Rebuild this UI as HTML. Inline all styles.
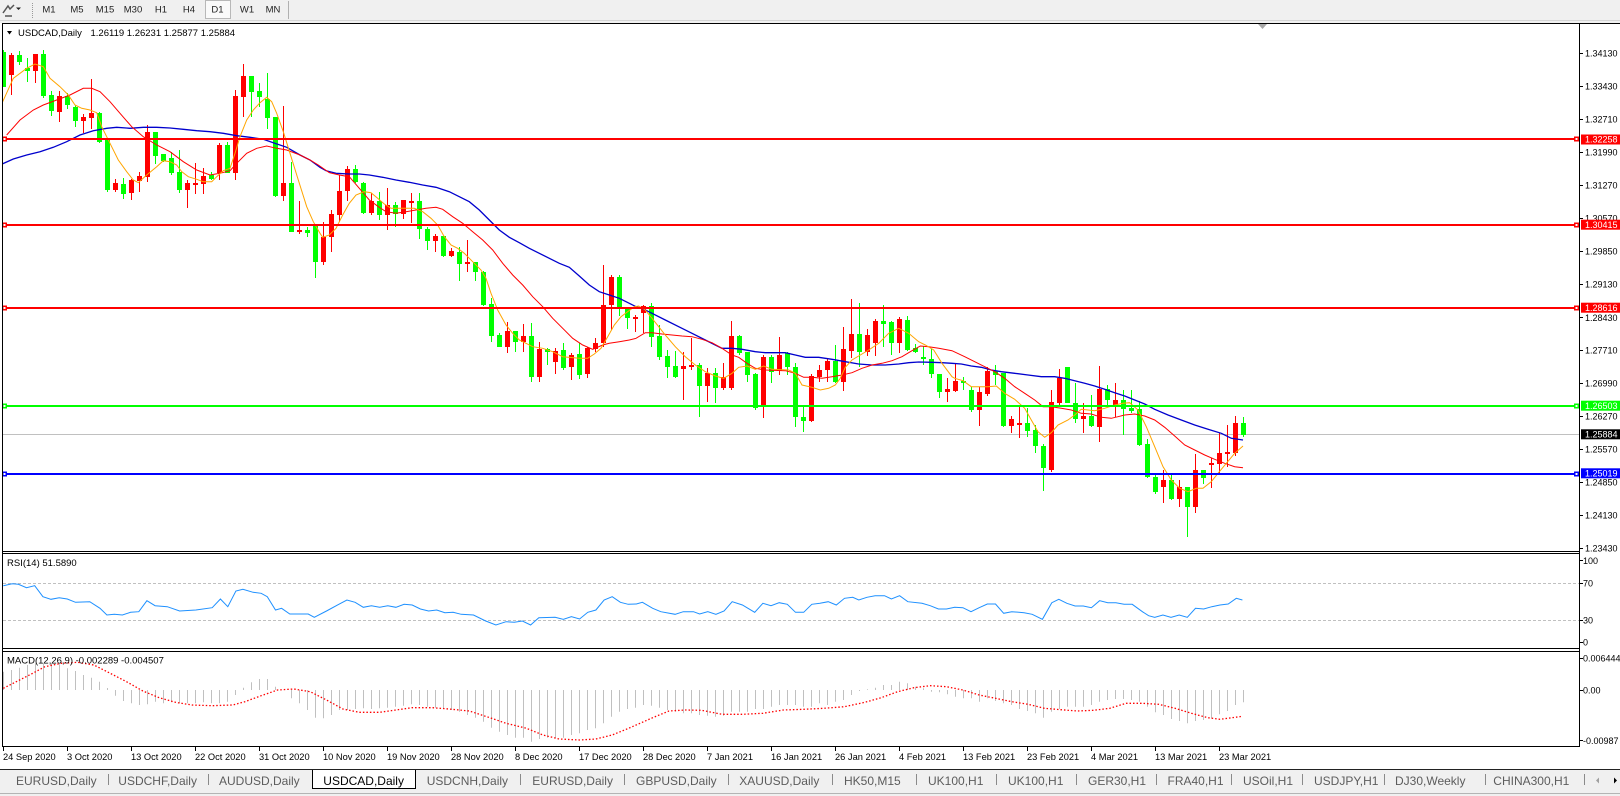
<!DOCTYPE html>
<html><head><meta charset="utf-8"><style>
html,body{margin:0;padding:0;background:#fff;width:1620px;height:796px;overflow:hidden}
svg{display:block;font-family:"Liberation Sans",Arial,sans-serif}
</style></head><body>
<svg width="1620" height="796" viewBox="0 0 1620 796" xmlns="http://www.w3.org/2000/svg">
<defs><clipPath id="mc"><rect x="3" y="24" width="1576" height="527"/></clipPath>
<clipPath id="rc"><rect x="3" y="554" width="1576" height="94"/></clipPath>
<clipPath id="dc"><rect x="3" y="652" width="1576" height="94"/></clipPath></defs>
<!-- toolbar -->
<rect x="0" y="0" width="1620" height="23" fill="#f0f0f0"/>
<line x1="0" y1="20.5" x2="1620" y2="20.5" stroke="#d4d4d4"/>
<path d="M3 13 L8 6 L10 9 L14 5 M5 16 L12 16" stroke="#555" stroke-width="1.5" fill="none"/>
<polygon points="16,7.5 21,7.5 18.5,10" fill="#222"/>
<line x1="32.5" y1="3" x2="32.5" y2="18" stroke="#999" stroke-dasharray="1 1"/>
<rect x="205.5" y="0.5" width="25" height="18" fill="#fafafa" stroke="#b8b8b8"/>
<line x1="288.5" y1="1" x2="288.5" y2="19" stroke="#b0b0b0"/>
<g font-size="9.5" fill="#222" text-anchor="middle">
<text x="49" y="12.3">M1</text><text x="77" y="12.3">M5</text><text x="105" y="12.3">M15</text><text x="133" y="12.3">M30</text><text x="161" y="12.3">H1</text><text x="189" y="12.3">H4</text><text x="217.5" y="12.3">D1</text><text x="247" y="12.3">W1</text><text x="273" y="12.3">MN</text>
</g>
<!-- frame -->
<line x1="2" y1="23.5" x2="1620" y2="23.5" stroke="#000"/>
<line x1="2.5" y1="23.5" x2="2.5" y2="747" stroke="#000"/>
<line x1="1579.5" y1="23.5" x2="1579.5" y2="747" stroke="#000"/>
<line x1="2" y1="551.5" x2="1580" y2="551.5" stroke="#000"/>
<line x1="2" y1="553.5" x2="1580" y2="553.5" stroke="#000"/>
<line x1="2" y1="648.5" x2="1580" y2="648.5" stroke="#000"/>
<line x1="2" y1="651.5" x2="1580" y2="651.5" stroke="#000"/>
<line x1="2" y1="746.5" x2="1580" y2="746.5" stroke="#000"/>
<polygon points="1258,24 1267,24 1262.5,29" fill="#a8a8a8"/>
<!-- title -->
<polygon points="7,31 12,31 9.5,34.5" fill="#000"/>
<text x="18" y="36" font-size="9.5" fill="#000">USDCAD,Daily  <tspan x="90.5">1.26119 1.26231 1.25877 1.25884</tspan></text>
<!-- main chart -->
<g clip-path="url(#mc)">
<rect x="3" y="434" width="1576" height="1" fill="#c0c0c0"/>
<g fill="#ff0000">
<rect x="11" y="53" width="1" height="42"/><rect x="9" y="55" width="5" height="20"/>
<rect x="35" y="54" width="1" height="29"/><rect x="33" y="54" width="5" height="17"/>
<rect x="59" y="91" width="1" height="31"/><rect x="57" y="96" width="5" height="16"/>
<rect x="83" y="114" width="1" height="19"/><rect x="81" y="117" width="5" height="4"/>
<rect x="91" y="79" width="1" height="50"/><rect x="89" y="113" width="5" height="5"/>
<rect x="115" y="179" width="1" height="13"/><rect x="113" y="183" width="5" height="7"/>
<rect x="131" y="179" width="1" height="21"/><rect x="129" y="180" width="5" height="13"/>
<rect x="139" y="172" width="1" height="20"/><rect x="137" y="176" width="5" height="5"/>
<rect x="147" y="125" width="1" height="57"/><rect x="145" y="132" width="5" height="45"/>
<rect x="187" y="180" width="1" height="28"/><rect x="185" y="183" width="5" height="7"/>
<rect x="195" y="163" width="1" height="31"/><rect x="193" y="183" width="5" height="2"/>
<rect x="203" y="168" width="1" height="26"/><rect x="201" y="176" width="5" height="8"/>
<rect x="219" y="143" width="1" height="37"/><rect x="217" y="145" width="5" height="28"/>
<rect x="235" y="90" width="1" height="90"/><rect x="233" y="96" width="5" height="77"/>
<rect x="243" y="64" width="1" height="53"/><rect x="241" y="76" width="5" height="21"/>
<rect x="283" y="106" width="1" height="95"/><rect x="281" y="183" width="5" height="13"/>
<rect x="299" y="201" width="1" height="33"/><rect x="297" y="230" width="5" height="2"/>
<rect x="323" y="222" width="1" height="43"/><rect x="321" y="237" width="5" height="25"/>
<rect x="331" y="210" width="1" height="42"/><rect x="329" y="214" width="5" height="23"/>
<rect x="339" y="175" width="1" height="47"/><rect x="337" y="191" width="5" height="24"/>
<rect x="347" y="166" width="1" height="35"/><rect x="345" y="169" width="5" height="22"/>
<rect x="371" y="193" width="1" height="22"/><rect x="369" y="201" width="5" height="12"/>
<rect x="387" y="188" width="1" height="42"/><rect x="385" y="205" width="5" height="10"/>
<rect x="403" y="200" width="1" height="19"/><rect x="401" y="200" width="5" height="14"/>
<rect x="411" y="193" width="1" height="30"/><rect x="409" y="201" width="5" height="2"/>
<rect x="435" y="234" width="1" height="18"/><rect x="433" y="236" width="5" height="5"/>
<rect x="451" y="248" width="1" height="9"/><rect x="449" y="251" width="5" height="5"/>
<rect x="467" y="240" width="1" height="32"/><rect x="465" y="262" width="5" height="2"/>
<rect x="507" y="322" width="1" height="31"/><rect x="505" y="331" width="5" height="16"/>
<rect x="523" y="324" width="1" height="28"/><rect x="521" y="336" width="5" height="6"/>
<rect x="539" y="342" width="1" height="40"/><rect x="537" y="349" width="5" height="28"/>
<rect x="555" y="348" width="1" height="26"/><rect x="553" y="351" width="5" height="11"/>
<rect x="571" y="353" width="1" height="27"/><rect x="569" y="355" width="5" height="12"/>
<rect x="587" y="347" width="1" height="31"/><rect x="585" y="348" width="5" height="26"/>
<rect x="595" y="338" width="1" height="14"/><rect x="593" y="343" width="5" height="6"/>
<rect x="603" y="265" width="1" height="82"/><rect x="601" y="305" width="5" height="38"/>
<rect x="611" y="275" width="1" height="55"/><rect x="609" y="277" width="5" height="28"/>
<rect x="635" y="315" width="1" height="17"/><rect x="633" y="317" width="5" height="2"/>
<rect x="643" y="305" width="1" height="28"/><rect x="641" y="306" width="5" height="7"/>
<rect x="683" y="352" width="1" height="48"/><rect x="681" y="366" width="5" height="3"/>
<rect x="691" y="338" width="1" height="32"/><rect x="689" y="365" width="5" height="2"/>
<rect x="707" y="368" width="1" height="34"/><rect x="705" y="373" width="5" height="13"/>
<rect x="723" y="363" width="1" height="27"/><rect x="721" y="377" width="5" height="11"/>
<rect x="731" y="321" width="1" height="69"/><rect x="729" y="336" width="5" height="52"/>
<rect x="763" y="355" width="1" height="63"/><rect x="761" y="357" width="5" height="49"/>
<rect x="779" y="337" width="1" height="38"/><rect x="777" y="355" width="5" height="16"/>
<rect x="811" y="374" width="1" height="48"/><rect x="809" y="376" width="5" height="45"/>
<rect x="819" y="365" width="1" height="17"/><rect x="817" y="370" width="5" height="7"/>
<rect x="827" y="359" width="1" height="23"/><rect x="825" y="361" width="5" height="9"/>
<rect x="843" y="327" width="1" height="64"/><rect x="841" y="349" width="5" height="33"/>
<rect x="851" y="299" width="1" height="59"/><rect x="849" y="334" width="5" height="17"/>
<rect x="867" y="329" width="1" height="27"/><rect x="865" y="335" width="5" height="17"/>
<rect x="875" y="319" width="1" height="37"/><rect x="873" y="321" width="5" height="22"/>
<rect x="899" y="317" width="1" height="36"/><rect x="897" y="319" width="5" height="24"/>
<rect x="947" y="378" width="1" height="24"/><rect x="945" y="389" width="5" height="3"/>
<rect x="955" y="363" width="1" height="29"/><rect x="953" y="381" width="5" height="10"/>
<rect x="979" y="387" width="1" height="39"/><rect x="977" y="392" width="5" height="18"/>
<rect x="987" y="367" width="1" height="29"/><rect x="985" y="371" width="5" height="23"/>
<rect x="1011" y="416" width="1" height="17"/><rect x="1009" y="419" width="5" height="7"/>
<rect x="1019" y="407" width="1" height="31"/><rect x="1017" y="423" width="5" height="2"/>
<rect x="1051" y="390" width="1" height="82"/><rect x="1049" y="402" width="5" height="68"/>
<rect x="1059" y="369" width="1" height="36"/><rect x="1057" y="378" width="5" height="25"/>
<rect x="1083" y="403" width="1" height="30"/><rect x="1081" y="416" width="5" height="3"/>
<rect x="1099" y="366" width="1" height="76"/><rect x="1097" y="389" width="5" height="38"/>
<rect x="1115" y="383" width="1" height="34"/><rect x="1113" y="400" width="5" height="5"/>
<rect x="1163" y="470" width="1" height="33"/><rect x="1161" y="480" width="5" height="7"/>
<rect x="1179" y="480" width="1" height="27"/><rect x="1177" y="487" width="5" height="12"/>
<rect x="1195" y="454" width="1" height="59"/><rect x="1193" y="470" width="5" height="37"/>
<rect x="1211" y="458" width="1" height="30"/><rect x="1209" y="463" width="5" height="2"/>
<rect x="1219" y="433" width="1" height="40"/><rect x="1217" y="453" width="5" height="11"/>
<rect x="1227" y="425" width="1" height="42"/><rect x="1225" y="452" width="5" height="2"/>
<rect x="1235" y="416" width="1" height="40"/><rect x="1233" y="423" width="5" height="30"/>
</g>
<g fill="#00ff00">
<rect x="3" y="50" width="1" height="37"/><rect x="1" y="52" width="5" height="35"/>
<rect x="19" y="51" width="1" height="14"/><rect x="17" y="55" width="5" height="7"/>
<rect x="27" y="58" width="1" height="24"/><rect x="25" y="68" width="5" height="3"/>
<rect x="43" y="50" width="1" height="48"/><rect x="41" y="54" width="5" height="42"/>
<rect x="51" y="91" width="1" height="25"/><rect x="49" y="95" width="5" height="16"/>
<rect x="67" y="93" width="1" height="16"/><rect x="65" y="96" width="5" height="9"/>
<rect x="75" y="105" width="1" height="22"/><rect x="73" y="107" width="5" height="14"/>
<rect x="99" y="112" width="1" height="31"/><rect x="97" y="113" width="5" height="29"/>
<rect x="107" y="140" width="1" height="52"/><rect x="105" y="140" width="5" height="50"/>
<rect x="123" y="178" width="1" height="21"/><rect x="121" y="184" width="5" height="10"/>
<rect x="155" y="132" width="1" height="32"/><rect x="153" y="132" width="5" height="24"/>
<rect x="163" y="154" width="1" height="8"/><rect x="161" y="154" width="5" height="7"/>
<rect x="171" y="152" width="1" height="23"/><rect x="169" y="158" width="5" height="15"/>
<rect x="179" y="150" width="1" height="43"/><rect x="177" y="172" width="5" height="18"/>
<rect x="211" y="172" width="1" height="8"/><rect x="209" y="175" width="5" height="4"/>
<rect x="227" y="142" width="1" height="31"/><rect x="225" y="145" width="5" height="28"/>
<rect x="251" y="76" width="1" height="41"/><rect x="249" y="76" width="5" height="16"/>
<rect x="259" y="83" width="1" height="24"/><rect x="257" y="91" width="5" height="6"/>
<rect x="267" y="73" width="1" height="56"/><rect x="265" y="99" width="5" height="19"/>
<rect x="275" y="117" width="1" height="80"/><rect x="273" y="117" width="5" height="79"/>
<rect x="291" y="162" width="1" height="70"/><rect x="289" y="183" width="5" height="49"/>
<rect x="307" y="227" width="1" height="10"/><rect x="305" y="230" width="5" height="3"/>
<rect x="315" y="226" width="1" height="52"/><rect x="313" y="226" width="5" height="36"/>
<rect x="355" y="165" width="1" height="18"/><rect x="353" y="169" width="5" height="13"/>
<rect x="363" y="182" width="1" height="32"/><rect x="361" y="183" width="5" height="30"/>
<rect x="379" y="192" width="1" height="28"/><rect x="377" y="201" width="5" height="14"/>
<rect x="395" y="202" width="1" height="25"/><rect x="393" y="205" width="5" height="9"/>
<rect x="419" y="193" width="1" height="46"/><rect x="417" y="201" width="5" height="28"/>
<rect x="427" y="227" width="1" height="23"/><rect x="425" y="229" width="5" height="12"/>
<rect x="443" y="236" width="1" height="21"/><rect x="441" y="236" width="5" height="20"/>
<rect x="459" y="247" width="1" height="34"/><rect x="457" y="252" width="5" height="12"/>
<rect x="475" y="262" width="1" height="19"/><rect x="473" y="262" width="5" height="10"/>
<rect x="483" y="271" width="1" height="35"/><rect x="481" y="272" width="5" height="33"/>
<rect x="491" y="298" width="1" height="44"/><rect x="489" y="304" width="5" height="32"/>
<rect x="499" y="333" width="1" height="14"/><rect x="497" y="335" width="5" height="12"/>
<rect x="515" y="331" width="1" height="21"/><rect x="513" y="331" width="5" height="11"/>
<rect x="531" y="323" width="1" height="59"/><rect x="529" y="336" width="5" height="41"/>
<rect x="547" y="348" width="1" height="17"/><rect x="545" y="349" width="5" height="3"/>
<rect x="563" y="343" width="1" height="27"/><rect x="561" y="350" width="5" height="18"/>
<rect x="579" y="343" width="1" height="36"/><rect x="577" y="354" width="5" height="21"/>
<rect x="619" y="275" width="1" height="41"/><rect x="617" y="277" width="5" height="32"/>
<rect x="627" y="307" width="1" height="22"/><rect x="625" y="308" width="5" height="10"/>
<rect x="651" y="303" width="1" height="44"/><rect x="649" y="306" width="5" height="31"/>
<rect x="659" y="325" width="1" height="35"/><rect x="657" y="336" width="5" height="21"/>
<rect x="667" y="350" width="1" height="28"/><rect x="665" y="356" width="5" height="11"/>
<rect x="675" y="351" width="1" height="27"/><rect x="673" y="366" width="5" height="11"/>
<rect x="699" y="363" width="1" height="54"/><rect x="697" y="365" width="5" height="21"/>
<rect x="715" y="368" width="1" height="35"/><rect x="713" y="373" width="5" height="15"/>
<rect x="739" y="335" width="1" height="20"/><rect x="737" y="336" width="5" height="17"/>
<rect x="747" y="352" width="1" height="30"/><rect x="745" y="352" width="5" height="23"/>
<rect x="755" y="373" width="1" height="37"/><rect x="753" y="374" width="5" height="34"/>
<rect x="771" y="355" width="1" height="28"/><rect x="769" y="357" width="5" height="15"/>
<rect x="787" y="352" width="1" height="23"/><rect x="785" y="353" width="5" height="14"/>
<rect x="795" y="363" width="1" height="64"/><rect x="793" y="367" width="5" height="50"/>
<rect x="803" y="407" width="1" height="25"/><rect x="801" y="417" width="5" height="4"/>
<rect x="835" y="345" width="1" height="38"/><rect x="833" y="361" width="5" height="21"/>
<rect x="859" y="303" width="1" height="64"/><rect x="857" y="334" width="5" height="18"/>
<rect x="883" y="305" width="1" height="42"/><rect x="881" y="321" width="5" height="3"/>
<rect x="891" y="321" width="1" height="34"/><rect x="889" y="322" width="5" height="21"/>
<rect x="907" y="316" width="1" height="35"/><rect x="905" y="320" width="5" height="30"/>
<rect x="915" y="344" width="1" height="9"/><rect x="913" y="348" width="5" height="4"/>
<rect x="923" y="346" width="1" height="19"/><rect x="921" y="357" width="5" height="2"/>
<rect x="931" y="349" width="1" height="29"/><rect x="929" y="359" width="5" height="15"/>
<rect x="939" y="374" width="1" height="24"/><rect x="937" y="374" width="5" height="18"/>
<rect x="963" y="377" width="1" height="13"/><rect x="961" y="381" width="5" height="2"/>
<rect x="971" y="387" width="1" height="25"/><rect x="969" y="390" width="5" height="20"/>
<rect x="995" y="365" width="1" height="20"/><rect x="993" y="371" width="5" height="4"/>
<rect x="1003" y="373" width="1" height="54"/><rect x="1001" y="373" width="5" height="53"/>
<rect x="1027" y="408" width="1" height="29"/><rect x="1025" y="423" width="5" height="8"/>
<rect x="1035" y="425" width="1" height="28"/><rect x="1033" y="430" width="5" height="16"/>
<rect x="1043" y="444" width="1" height="47"/><rect x="1041" y="446" width="5" height="22"/>
<rect x="1067" y="367" width="1" height="36"/><rect x="1065" y="367" width="5" height="36"/>
<rect x="1075" y="383" width="1" height="40"/><rect x="1073" y="403" width="5" height="16"/>
<rect x="1091" y="395" width="1" height="32"/><rect x="1089" y="416" width="5" height="10"/>
<rect x="1107" y="385" width="1" height="20"/><rect x="1105" y="389" width="5" height="11"/>
<rect x="1123" y="390" width="1" height="45"/><rect x="1121" y="400" width="5" height="9"/>
<rect x="1131" y="390" width="1" height="23"/><rect x="1129" y="408" width="5" height="3"/>
<rect x="1139" y="401" width="1" height="45"/><rect x="1137" y="409" width="5" height="36"/>
<rect x="1147" y="439" width="1" height="39"/><rect x="1145" y="444" width="5" height="33"/>
<rect x="1155" y="474" width="1" height="20"/><rect x="1153" y="477" width="5" height="15"/>
<rect x="1171" y="474" width="1" height="26"/><rect x="1169" y="480" width="5" height="19"/>
<rect x="1187" y="487" width="1" height="50"/><rect x="1185" y="487" width="5" height="20"/>
<rect x="1203" y="470" width="1" height="14"/><rect x="1201" y="470" width="5" height="8"/>
<rect x="1243" y="417" width="1" height="20"/><rect x="1241" y="423" width="5" height="12"/>
</g>
<polyline fill="none" stroke="#0000cd" stroke-width="1.3" points="0,165 13.3,159 26.7,155 40,151.7 53.3,147.3 66.7,141.7 80,135 93.3,130.7 106.7,128.3 116.7,127.3 130,128.3 143.3,127.3 156.7,127.3 170,128 183.3,129.3 196.7,130.7 210,131.7 223.3,133.3 236.7,135.7 250,137.3 263.3,139.3 273.3,142.7 286.7,147.3 300,155 310,160 320,167.3 326,170.7 336,173.3 349.3,174 359.3,174 369.3,175 382.7,177.3 396,180 409.3,182.3 422.7,185 436,187.3 449.3,191.7 459.3,196.7 469.3,201.7 479.3,210 489.3,220 499.3,230 509.3,237.3 519.3,242.7 529.3,248.3 539.3,253.3 549.3,258.3 559.3,263.3 569.3,267.3 579.3,276 589.3,285 599.3,291.7 609.3,295 619.3,298.3 629.3,303.3 636,306.7 642,308.3 652,313.3 665.3,320 678.7,326.7 692,333.3 705.3,340 715.3,345 722,348.3 732,348.3 742,349.3 755.3,351.7 765.3,352.7 785.3,352.7 795.3,355 805.3,357.3 818.7,357.3 832,359.3 845.3,361.7 858.7,364 872,365 885.3,365 898.7,364 908.7,362.7 918.7,362 932,362.3 942,362.7 952,363.3 961.3,364 971.3,366 981.3,367.3 991.3,370 1001.3,371.7 1014.7,373.3 1028,375 1041.3,376.7 1054.7,376.7 1064.7,378.3 1074.7,380.7 1084.7,383.3 1094.7,386 1104.7,389.3 1114.7,392.7 1124.7,396 1134.7,400 1144.7,404 1154.7,409.3 1168,415 1181.3,420 1194.7,425 1208,429.3 1221.3,433.3 1231.3,438.3 1243,440"/>
<polyline fill="none" stroke="#ff0000" stroke-width="1" points="6.7,135 20,120 33.3,110 43.3,105 56.7,100 70,95 83.3,88.3 91.7,88.3 100,91.7 110,101.7 120,113.3 131.7,126.7 143.3,136.7 156.7,145 170,151.7 183.3,161.7 196.7,170 210,175 220,173.3 230,170.7 236.7,163.3 246.7,153.3 256.7,148.3 266.7,146 276.7,148.3 286.7,150 300,155 310,160 318.3,165 329.3,172.7 339.3,175 349.3,176.7 359.3,188.3 369.3,200 379.3,207.3 386,211.7 396,213.3 406,211.7 416,210 426,208.3 436,207.3 442.7,209.3 452.7,216.7 462.7,223.3 472.7,231.7 482.7,240 492.7,250 502.7,263.3 512.7,275 522.7,285 532.7,296.7 542.7,306.7 552.7,318.3 562.7,328.3 572.7,338.3 582.7,345 592.7,349.3 602.7,345 609.3,343.3 619.3,341.7 629.3,340 636,338.3 645.3,332.7 652,332.7 662,334 672,335 682,336 692,336.7 702,339.3 712,342.7 722,348.3 732,355 738.7,357.3 747,363.3 755.3,368.3 765.3,370 785.3,370.7 795.3,373.3 803.7,377.3 812,377.3 822,378.3 832,376.7 842,375 852,372.7 862,368.3 872,365 882,363.3 892,360.7 902,356.7 912,350.7 920.3,346 928.7,346.7 938.7,348.3 952,350.7 964.7,356.7 974.7,361.7 984.7,366.7 994.7,371.7 1004.7,378.3 1014.7,386.7 1024.7,393.3 1034.7,400 1043,406.7 1051.3,406.7 1061.3,408.3 1071.3,410 1081.3,413.3 1091.3,414 1101.3,417.3 1111.3,418.3 1118,416.7 1124.7,415 1134.7,414 1144.7,416 1154.7,420 1164.7,427.3 1174.7,436 1184.7,445 1194.7,450 1204.7,455 1214.7,459.3 1224.7,463.3 1234.7,466.7 1243,467.7"/>
<polyline fill="none" stroke="#ffa500" stroke-width="1" points="2.7,101.7 13.3,78.3 26.7,68.3 35,64 43.3,66.7 50,78.3 60,86.7 68.3,95 75,105 81.7,108.3 90,110 96.7,112.7 101.7,126.7 110,143.3 118.3,160 126.7,171.7 133.3,180 138.3,182.7 146.7,175 156.7,166.7 163.3,160.7 170,161.7 176.7,165 181.7,171.7 188.3,176.7 196.7,179.3 203.3,181.7 211.7,181.7 216.7,176.7 223.3,170.7 230,168.3 235,153.3 240,136.7 246.7,120 253.3,110 260,102.7 266.7,97.3 271.7,101.7 276.7,113.3 283.3,131.7 290,153.3 298.3,180 306.7,206.7 313.3,221.7 320,233.3 322.7,237.3 329.3,235 336,228.3 342.7,215 349.3,203.3 356,195 364.3,191.7 371,192.7 377.7,198.3 384.3,204 391,208.3 406,208.3 414.3,208.3 422.7,211.7 431,218.3 437.7,225 444.3,236.7 451,245 457.7,248.3 464.3,253.3 472.7,261.7 481,270 486,278.3 491,293.3 497.7,310 506,325 512.7,333.3 519.3,340 526,343.3 532.7,346.7 542.7,348.3 552.7,351.7 562.7,356.7 579.3,358.3 587.7,358.3 594.3,354 601,348.3 607.7,336.7 614.3,325 621,316.7 627.7,311.7 634.3,306.7 638.7,306 645.3,310 652,318.3 658.7,326.7 665.3,335 675.3,346.7 685.3,356.7 695.3,365 705.3,371.7 715.3,376 723.7,378.3 732,373.3 738.7,367.3 747,366 755.3,369.3 763.7,366 772,369.3 788.7,370 795.3,373.3 802,385 812,387.3 820.3,390 828.7,388.3 835.3,385 840.3,378.3 845.3,367.3 852,360 862,354 868.7,350 878.7,343.3 888.7,333.3 898.7,328.3 908.7,333.3 918.7,341.7 925.3,345 933.7,350 942,363.3 952,376.7 954.7,378.3 963,380.7 971.3,386.7 988,386.7 996.3,386 1004.7,393.3 1014.7,399.3 1024.7,408.3 1031.3,420 1038,431.7 1044.7,437.3 1051.3,432.7 1058,425 1068,420 1074.7,415 1081.3,409.3 1088,410 1094.7,410.7 1104.7,408.3 1114.7,405 1123,403.3 1129.7,402.7 1138,410 1146.3,426.7 1154.7,446.7 1163,466.7 1171.3,480 1179.7,488.3 1188,491.7 1196.3,488.3 1203,488.3 1211.3,481.7 1218,473.3 1226.3,463.3 1234.7,453.3 1243,446"/>
<!-- horizontal levels -->
<rect x="3" y="138" width="1572" height="2" fill="#ff0000"/>
<rect x="3" y="224" width="1572" height="2" fill="#ff0000"/>
<rect x="3" y="307" width="1572" height="2" fill="#ff0000"/>
<rect x="3" y="405" width="1572" height="2" fill="#00ff00"/>
<rect x="3" y="473" width="1572" height="2" fill="#0000ff"/>
<g>
<rect x="2" y="136.5" width="5" height="5" fill="#ff0000"/><rect x="3.5" y="138" width="2" height="2" fill="#fff"/>
<rect x="1574" y="136.5" width="5" height="5" fill="#ff0000"/><rect x="1575.5" y="138" width="2" height="2" fill="#fff"/>
<rect x="2" y="222.5" width="5" height="5" fill="#ff0000"/><rect x="3.5" y="224" width="2" height="2" fill="#fff"/>
<rect x="1574" y="222.5" width="5" height="5" fill="#ff0000"/><rect x="1575.5" y="224" width="2" height="2" fill="#fff"/>
<rect x="2" y="305.5" width="5" height="5" fill="#ff0000"/><rect x="3.5" y="307" width="2" height="2" fill="#fff"/>
<rect x="1574" y="305.5" width="5" height="5" fill="#ff0000"/><rect x="1575.5" y="307" width="2" height="2" fill="#fff"/>
<rect x="2" y="403.5" width="5" height="5" fill="#00ff00"/><rect x="3.5" y="405" width="2" height="2" fill="#fff"/>
<rect x="1574" y="403.5" width="5" height="5" fill="#00ff00"/><rect x="1575.5" y="405" width="2" height="2" fill="#fff"/>
<rect x="2" y="471.5" width="5" height="5" fill="#0000ff"/><rect x="3.5" y="473" width="2" height="2" fill="#fff"/>
<rect x="1574" y="471.5" width="5" height="5" fill="#0000ff"/><rect x="1575.5" y="473" width="2" height="2" fill="#fff"/>
</g>
</g>
<!-- price axis -->
<path d="M1580 53.5h3M1580 86.5h3M1580 119.5h3M1580 152.5h3M1580 185.5h3M1580 218.5h3M1580 251.5h3M1580 284.5h3M1580 317.5h3M1580 350.5h3M1580 383.5h3M1580 416.5h3M1580 449.5h3M1580 482.5h3M1580 515.5h3M1580 548.5h3M1580 560.5h3M1580 583.5h3M1580 620.5h3M1580 642.5h3M1580 658.5h3M1580 690.5h3M1580 740.5h3" stroke="#000"/>
<g font-size="9" fill="#000">
<text x="1585" y="56.6">1.34130</text><text x="1585" y="89.6">1.33430</text><text x="1585" y="122.6">1.32710</text><text x="1585" y="155.6">1.31990</text><text x="1585" y="188.6">1.31270</text><text x="1585" y="221.6">1.30570</text><text x="1585" y="254.6">1.29850</text><text x="1585" y="287.6">1.29130</text><text x="1585" y="321">1.28430</text><text x="1585" y="353.6">1.27710</text><text x="1585" y="386.6">1.26990</text><text x="1585" y="419.3">1.26270</text><text x="1585" y="452.6">1.25570</text><text x="1585" y="485.3">1.24850</text><text x="1585" y="518.6">1.24130</text><text x="1585" y="551.6">1.23430</text>
<text x="1583" y="564">100</text><text x="1583" y="586.6">70</text><text x="1583" y="623.3">30</text><text x="1583" y="645.6">0</text>
<text x="1583" y="661.6">0.006444</text><text x="1583" y="693.6">0.00</text><text x="1583" y="744">-0.00987</text>
</g>
<rect x="1581" y="134.5" width="39" height="10" fill="#ff0000"/>
<rect x="1581" y="219.7" width="39" height="10" fill="#ff0000"/>
<rect x="1581" y="302.7" width="39" height="10" fill="#ff0000"/>
<rect x="1581" y="400.7" width="39" height="10" fill="#00ff00"/>
<rect x="1581" y="429.3" width="39" height="10" fill="#000"/>
<rect x="1581" y="468.3" width="39" height="10" fill="#0000ff"/>
<g font-size="9" fill="#fff">
<text x="1585" y="142.7">1.32258</text><text x="1585" y="228">1.30415</text><text x="1585" y="311">1.28616</text><text x="1585" y="409">1.26503</text><text x="1585" y="437.6">1.25884</text><text x="1585" y="476.6">1.25019</text>
</g>
<!-- RSI -->
<line x1="3" y1="583.5" x2="1579" y2="583.5" stroke="#c0c0c0" stroke-dasharray="3 2"/>
<line x1="3" y1="620.5" x2="1579" y2="620.5" stroke="#c0c0c0" stroke-dasharray="3 2"/>
<text x="7" y="566" font-size="9.5" fill="#000">RSI(14) 51.5890</text>
<g clip-path="url(#rc)">
<polyline fill="none" stroke="#1e90ff" stroke-width="1" points="3.3,585.7 12.2,583.7 18.4,584.3 26.5,587.7 34.7,585.7 42.9,596.7 51,599.3 59.2,597.7 67.3,599 75.5,602.3 89.8,601.7 100,608.3 106.9,615 114.3,614.3 122.4,615 130.6,612.3 138.8,611.7 146.9,600.7 155.1,605.7 167.3,606.7 179.6,611 195.9,610 212.2,607.7 220.4,599 227.8,606.7 235.9,591 242.9,589.3 253.1,592.3 261.2,593.3 267.3,596.7 275.5,610 281.6,608.3 289.8,614 308.2,614 314.3,617.3 326.5,611 338.8,604.3 346.9,600 355.1,602.3 363.3,607.3 371.4,605.7 379.6,607.3 387.8,605.7 395.9,607.3 404.1,604.3 412.2,605 420.4,609 428.6,611 436.7,610 444.9,612.7 453.1,612.3 461.2,614.3 473.5,615 485.7,621 495.9,625 506.1,621.7 514.3,622.3 522.4,621 530.6,625 538.8,617.7 555.1,617.3 563.3,619.3 571.4,616.7 579.6,619 587.8,612.3 595.9,610 604.1,600 612.2,596.7 620.4,602.3 628.2,604.3 636.3,604 642.4,602.3 652.7,608.3 660.8,611.7 675.1,614.3 683.3,611.7 693.5,611.7 699.6,614 707.8,611.7 715.9,614.3 724.1,611 732.2,601.7 742.4,605 754.7,612.3 762.9,603.3 771,605.7 779.2,602.7 787.3,604.3 795.5,612.3 803.7,612.3 811.8,604.3 820,603.3 828.2,601.7 836.3,605 844.5,598.3 852.7,597.3 858.8,600 866.9,597.3 875.1,595.7 884.5,595.7 891.4,599 899.6,595.7 907.8,601.7 922,603.3 930.2,605.7 938.4,609 946.5,609 954.7,607.3 962.9,607.7 971,611.7 979.2,607.7 987.3,604 995.5,604 1003.7,613.3 1011.8,611.7 1024.1,612.7 1032.2,614.3 1042.4,619.3 1051.8,602.7 1058.8,599.3 1066.9,603.3 1075.1,606 1083.3,606 1091.4,607.7 1099.6,600.7 1107.8,602.7 1115.9,602.7 1124.1,604.3 1132.2,604.3 1142.4,611.7 1148.6,615.7 1154.7,617.3 1162.9,615 1171,617.3 1179.2,615 1187.3,617.3 1195.5,608.3 1203.7,609 1211.8,606.7 1220,605 1228.2,604 1236.3,598.3 1242.4,600"/>
</g>
<!-- MACD -->
<g clip-path="url(#dc)">
<path fill="none" stroke="#c0c0c0" stroke-width="1" d="M3.5 690V671.7M11.5 690V670M19.5 690V667.7M27.5 690V665M35.5 690V663.3M43.5 690V663.3M51.5 690V663.3M59.5 690V664.3M67.5 690V668.3M75.5 690V671M83.5 690V675M91.5 690V677.7M99.5 690V681.7M107.5 690V688M115.5 690V695.7M123.5 690V701M131.5 690V703.3M139.5 690V705M147.5 690V704.3M155.5 690V701.7M163.5 690V703.3M171.5 690V702.3M179.5 690V703.3M187.5 690V703.3M195.5 690V703.3M203.5 690V702.3M211.5 690V703.3M219.5 690V703.3M227.5 690V701.7M235.5 690V695M243.5 690V687.7M251.5 690V682.3M259.5 690V679M267.5 690V679M275.5 690V686.7M283.5 690V690M291.5 690V698.3M299.5 690V703.3M307.5 690V710M315.5 690V717.7M323.5 690V718.3M331.5 690V715M339.5 690V710M347.5 690V710M355.5 690V709M363.5 690V708.3M371.5 690V709M379.5 690V708.3M387.5 690V707.7M395.5 690V706.7M403.5 690V705.7M411.5 690V704.3M419.5 690V705M427.5 690V706.7M435.5 690V707.7M443.5 690V708.3M451.5 690V710M459.5 690V711.7M467.5 690V715M475.5 690V717.7M483.5 690V721.7M491.5 690V727.7M499.5 690V731.7M507.5 690V735M515.5 690V737.7M523.5 690V737.7M531.5 690V741.7M539.5 690V739M547.5 690V737.7M555.5 690V738.3M563.5 690V737.7M571.5 690V735M579.5 690V733.3M587.5 690V730M595.5 690V728.3M603.5 690V723.3M611.5 690V716.7M619.5 690V711.7M627.5 690V709M635.5 690V707.7M643.5 690V705M651.5 690V705.7M659.5 690V707.7M667.5 690V710M675.5 690V711.7M683.5 690V713.3M691.5 690V713.3M699.5 690V715M707.5 690V715.7M715.5 690V716.7M723.5 690V715.7M731.5 690V711.7M739.5 690V711.7M747.5 690V711.7M755.5 690V709M763.5 690V709M771.5 690V706.7M779.5 690V705M787.5 690V705M795.5 690V705M803.5 690V706.7M811.5 690V706.7M819.5 690V703.3M827.5 690V705M835.5 690V701.7M843.5 690V700M851.5 690V695M859.5 690V691M867.5 690V689.3M875.5 690V687.7M883.5 690V685M891.5 690V685M899.5 690V681.7M907.5 690V683.3M915.5 690V686.7M923.5 690V688.3M931.5 690V691.7M939.5 690V692.3M947.5 690V694.3M955.5 690V696.7M963.5 690V698.3M971.5 690V698.3M979.5 690V701.7M987.5 690V698.3M995.5 690V701M1003.5 690V703.3M1011.5 690V705M1019.5 690V709M1027.5 690V711M1035.5 690V713.3M1043.5 690V717.7M1051.5 690V711.7M1059.5 690V709M1067.5 690V706.7M1075.5 690V706.7M1083.5 690V706.7M1091.5 690V705M1099.5 690V701.7M1107.5 690V700M1115.5 690V699M1123.5 690V699M1131.5 690V700M1139.5 690V701.7M1147.5 690V706.7M1155.5 690V712.3M1163.5 690V715M1171.5 690V719M1179.5 690V721M1187.5 690V723.3M1195.5 690V721M1203.5 690V720M1211.5 690V718.3M1219.5 690V714.3M1227.5 690V711M1235.5 690V705M1243.5 690V702.3"/>
<polyline fill="none" stroke="#ff0000" stroke-width="1.3" stroke-dasharray="1.5 2" points="3.3,688.3 16.3,681.7 32.7,673.3 44.9,666.7 61.2,663.3 77.6,662.3 93.9,665 110.2,673.3 126.5,681.7 142.9,691 159.2,697.7 175.5,702.3 191.8,705 212.2,705.7 232.7,705 244.9,701.7 261.2,695.7 277.6,690 293.9,689 310.2,691.7 326.5,700 342.9,709 359.2,712.3 379.6,712.3 395.9,710 412.2,707.7 432.7,707.7 449,709 469.4,711 489.8,717.7 506.1,723.3 526.5,728.3 542.9,735 559.2,739 579.6,740 595.9,739 612.2,735 628.6,728.3 640,723.3 652.7,717.7 669,711 685.3,710 701.6,710.3 722,714.3 742.4,714.3 762.9,713.3 783.3,710 803.7,709.3 824.1,708.3 844.5,706.7 864.9,702.3 881.2,697.7 897.6,691.7 914,687.7 930.2,685.7 946.5,686.7 962.9,690 979.2,695 995.5,698.3 1011.8,701.7 1028.2,704.3 1044.5,708.3 1060.8,709.7 1077.1,711 1093.5,710.3 1109.8,708.3 1126.1,703.3 1142.4,703.3 1158.8,704.3 1175.1,708.3 1191.4,713.3 1207.8,717.7 1220,719.3 1232.2,717.7 1242.4,716.3"/>
</g>
<text x="7" y="663.5" font-size="9.5" fill="#000">MACD(12,26,9) -0.002289 -0.004507</text>
<!-- time axis -->
<path d="M3.5 747v4M67.5 747v4M131.5 747v4M195.5 747v4M259.5 747v4M323.5 747v4M387.5 747v4M451.5 747v4M515.5 747v4M579.5 747v4M643.5 747v4M707.5 747v4M771.5 747v4M835.5 747v4M899.5 747v4M963.5 747v4M1027.5 747v4M1091.5 747v4M1155.5 747v4M1219.5 747v4" stroke="#000"/>
<g font-size="9.3" fill="#000">
<text x="3" y="760">24 Sep 2020</text><text x="67" y="760">3 Oct 2020</text><text x="131" y="760">13 Oct 2020</text><text x="195" y="760">22 Oct 2020</text><text x="259" y="760">31 Oct 2020</text><text x="323" y="760">10 Nov 2020</text><text x="387" y="760">19 Nov 2020</text><text x="451" y="760">28 Nov 2020</text><text x="515" y="760">8 Dec 2020</text><text x="579" y="760">17 Dec 2020</text><text x="643" y="760">28 Dec 2020</text><text x="707" y="760">7 Jan 2021</text><text x="771" y="760">16 Jan 2021</text><text x="835" y="760">26 Jan 2021</text><text x="899" y="760">4 Feb 2021</text><text x="963" y="760">13 Feb 2021</text><text x="1027" y="760">23 Feb 2021</text><text x="1091" y="760">4 Mar 2021</text><text x="1155" y="760">13 Mar 2021</text><text x="1219" y="760">23 Mar 2021</text>
</g>
<!-- tabs -->
<rect x="0" y="769" width="1620" height="27" fill="#f0f0f0"/>
<line x1="0" y1="769.5" x2="1620" y2="769.5" stroke="#222"/>
<line x1="0" y1="793.5" x2="1620" y2="793.5" stroke="#b4b4b4"/>
<rect x="312.5" y="770" width="103" height="18.5" fill="#fff"/>
<path d="M312.5 770V788.5H415.5V770" fill="none" stroke="#000"/>
<path d="M108.5 774v11M208.5 774v11M520.5 774v11M624.5 774v11M728.5 774v11M832.5 774v11M916.5 774v11M996.5 774v11M1076.5 774v11M1156.5 774v11M1231.5 774v11M1302.5 774v11M1384.5 774v11M1485.5 774v11M1584.5 774v11" stroke="#8a8a8a"/>
<g font-size="12" fill="#5c5c5c">
<text x="16" y="785">EURUSD,Daily</text><text x="118.3" y="785">USDCHF,Daily</text><text x="219" y="785">AUDUSD,Daily</text>
<text x="323.3" y="785" fill="#000">USDCAD,Daily</text>
<text x="426.7" y="785">USDCNH,Daily</text><text x="532.3" y="785">EURUSD,Daily</text><text x="636" y="785">GBPUSD,Daily</text><text x="739.3" y="785">XAUUSD,Daily</text><text x="844" y="785">HK50,M15</text><text x="928" y="785">UK100,H1</text><text x="1008" y="785">UK100,H1</text><text x="1088" y="785">GER30,H1</text><text x="1167.5" y="785">FRA40,H1</text><text x="1243" y="785">USOil,H1</text><text x="1314" y="785">USDJPY,H1</text><text x="1395" y="785">DJ30,Weekly</text><text x="1493.3" y="785">CHINA300,H1</text>
</g>
<polygon points="1599,777.5 1599,783.5 1596,780.5" fill="#a0a0a0"/>
<polygon points="1614,777.5 1614,783.5 1617,780.5" fill="#000"/>
</svg>
</body></html>
